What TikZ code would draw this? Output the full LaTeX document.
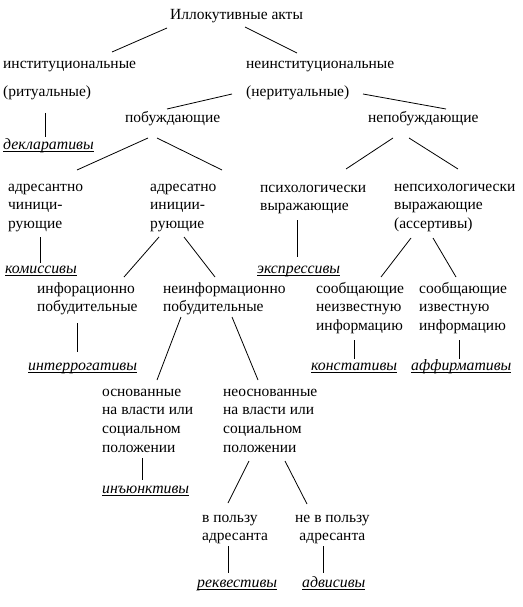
\documentclass[tikz,border=0pt]{standalone}
\usepackage{fontspec}
\setmainfont{Liberation Serif}
\usepackage{tikz}
\newcommand\undl[1]{\setbox0\hbox{#1}\rlap{\rule[-3pt]{\wd0}{0.7pt}}\box0}

\begin{document}
\begin{tikzpicture}[
  x=1pt, y=-1pt,
  lbl/.style={font=\fontsize{15.5}{18.7}\selectfont, inner sep=0pt, anchor=base west, align=left},
  term/.style={lbl, font=\fontsize{15.8}{18.7}\selectfont\itshape},
  link/.style={line width=0.8pt, draw=black}
]
\useasboundingbox (0,0) rectangle (522,607);
\node[lbl] (root) at (170,20) {Иллокутивные акты};
\node[lbl] (inst) at (3,96) {институциональные\\[9.3pt](ритуальные)};
\node[lbl] (noninst) at (246,96) {неинституциональные\\[9.3pt](неритуальные)};
\node[lbl] (incite) at (125,123) {побуждающие};
\node[lbl] (noninc) at (368,123) {непобуждающие};
\node[term] (decl) at (3,149) {\undl{декларативы}};
\node[lbl] (addresser) at (8,228.4) {адресантно\\чиници-\\рующие};
\node[lbl] (addressee) at (150,228.4) {адресатно\\иниции-\\рующие};
\node[lbl] (psych) at (260,210.7) {психологически\\выражающие};
\node[lbl] (nonpsych) at (394,228.4) {непсихологически\\выражающие\\(ассертивы)};
\node[term] (comm) at (5,273) {\undl{комиссивы}};
\node[term] (expr) at (257,273) {\undl{экспрессивы}};
\node[lbl] (info) at (37,311.7) {инфорационно\\побудительные};
\node[lbl] (noninfo) at (163,311.7) {неинформационно\\побудительные};
\node[lbl] (unknown) at (316,330.4) {сообщающие\\неизвестную\\информацию};
\node[lbl] (known) at (419,330.4) {сообщающие\\известную\\информацию};
\node[term] (interr) at (28,370) {\undl{интеррогативы}};
\node[term] (const) at (311,370) {\undl{констативы}};
\node[term] (affirm) at (411,370) {\undl{аффирмативы}};
\node[lbl] (based) at (102,452.1) {основанные\\на власти или\\социальном\\положении};
\node[lbl] (unbased) at (223,452.1) {неоснованные\\на власти или\\социальном\\положении};
\node[term] (injunct) at (102,493) {\undl{инъюнктивы}};
\node[lbl] (forspk) at (202,540.7) {в пользу\\адресанта};
\node[lbl, align=center] (againstspk) at (295,540.7) {не в пользу\\адресанта};
\node[term] (request) at (197,587) {\undl{реквестивы}};
\node[term] (advis) at (302,587) {\undl{адвисивы}};
\draw[link] ([shift={(-3,8)}]root.base west) -- ([shift={(109,-44)}]inst.base west);
\draw[link] ([shift={(75,7)}]root.base west) -- ([shift={(51,-43)}]noninst.base west);
\draw[link] ([shift={(-14,-2)}]noninst.base west) -- ([shift={(42,-14)}]incite.base west);
\draw[link] ([shift={(117,-2)}]noninst.base west) -- ([shift={(78,-14)}]noninc.base west);
\draw[link] ([shift={(42,17)}]inst.base west) -- ([shift={(42,-12)}]decl.base west);
\draw[link] ([shift={(23,15)}]incite.base west) -- ([shift={(69,-58.4)}]addresser.base west);
\draw[link] ([shift={(32,15)}]incite.base west) -- ([shift={(72,-58.4)}]addressee.base west);
\draw[link] ([shift={(25,15)}]noninc.base west) -- ([shift={(86,-41.7)}]psych.base west);
\draw[link] ([shift={(41,15)}]noninc.base west) -- ([shift={(64,-59.4)}]nonpsych.base west);
\draw[link] ([shift={(32,8.6)}]addresser.base west) -- ([shift={(35,-10)}]comm.base west);
\draw[link] ([shift={(37,9.3)}]psych.base west) -- ([shift={(40,-16)}]expr.base west);
\draw[link] ([shift={(9,8.6)}]addressee.base west) -- ([shift={(87,-34.7)}]info.base west);
\draw[link] ([shift={(34,8.6)}]addressee.base west) -- ([shift={(52,-34.7)}]noninfo.base west);
\draw[link] ([shift={(17,9.6)}]nonpsych.base west) -- ([shift={(65,-53.4)}]unknown.base west);
\draw[link] ([shift={(39,9.6)}]nonpsych.base west) -- ([shift={(37,-53.4)}]known.base west);
\draw[link] ([shift={(40,11.3)}]info.base west) -- ([shift={(49,-18)}]interr.base west);
\draw[link] ([shift={(38,9.6)}]unknown.base west) -- ([shift={(43,-11)}]const.base west);
\draw[link] ([shift={(40,9.6)}]known.base west) -- ([shift={(48,-11)}]affirm.base west);
\draw[link] ([shift={(18,5.3)}]noninfo.base west) -- ([shift={(55,-72.1)}]based.base west);
\draw[link] ([shift={(69,5.3)}]noninfo.base west) -- ([shift={(35,-72.1)}]unbased.base west);
\draw[link] ([shift={(40,5.9)}]based.base west) -- ([shift={(40,-13)}]injunct.base west);
\draw[link] ([shift={(26,8.9)}]unbased.base west) -- ([shift={(26,-37.7)}]forspk.base west);
\draw[link] ([shift={(62,8.9)}]unbased.base west) -- ([shift={(12,-36.7)}]againstspk.base west);
\draw[link] ([shift={(26,5.3)}]forspk.base west) -- ([shift={(31,-14)}]request.base west);
\draw[link] ([shift={(28,5.3)}]againstspk.base west) -- ([shift={(21,-14)}]advis.base west);
\end{tikzpicture}
\end{document}
